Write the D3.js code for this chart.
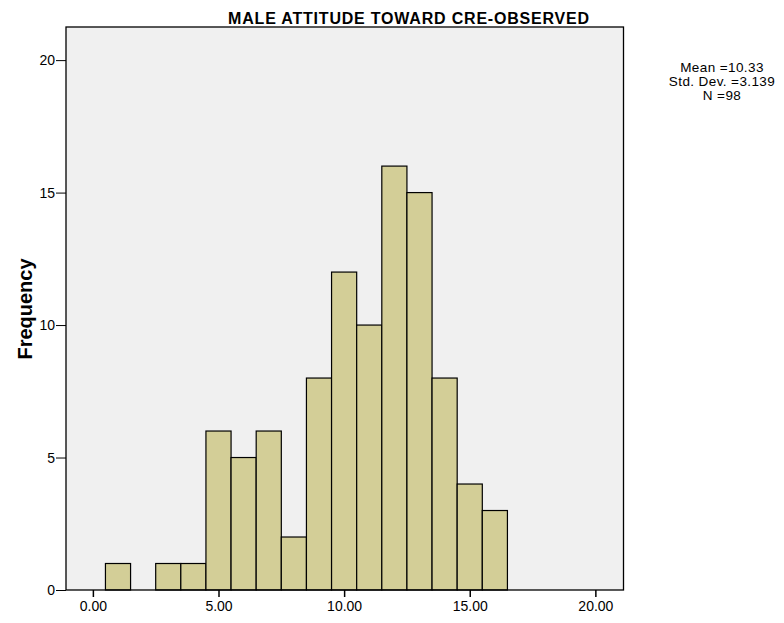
<!DOCTYPE html>
<html>
<head>
<meta charset="utf-8">
<script src="https://cdn.jsdelivr.net/npm/d3@7"></script>
<style>
  body { margin: 0; background: #fff; }
  svg { display: block; font-family: Arial, "Liberation Sans", sans-serif; }
</style>
</head>
<body>
<svg id="chart" width="784" height="623"></svg>
<script>
// Histogram bins (bin centres, width 1) and their frequencies
const binCenters = [1, 2, 3, 4, 5, 6, 7, 8, 9, 10, 11, 12, 13, 14, 15, 16];
const frequencies = [1, 0, 1, 1, 6, 5, 6, 2, 8, 12, 10, 16, 15, 8, 4, 3];
const xTicks = [0, 5, 10, 15, 20];
const yTicks = [0, 5, 10, 15, 20];
const statsLines = ["Mean =10.33", "Std. Dev. =3.139", "N =98"];
const titleText = "MALE ATTITUDE TOWARD CRE-OBSERVED";
const yLabel = "Frequency";

const svg = d3.select("#chart");
const frame = { left: 66, right: 623.5, top: 27, bottom: 590 };
const font = "Arial, 'Liberation Sans', sans-serif";

const x = d3.scaleLinear().domain([-1.07, 21.12]).range([frame.left, frame.right]);
const y = d3.scaleLinear().domain([0, 21.25]).range([frame.bottom, frame.top]);

// plot background
svg.append("rect")
  .attr("x", frame.left).attr("y", frame.top)
  .attr("width", frame.right - frame.left).attr("height", frame.bottom - frame.top)
  .attr("fill", "#f0f0f0");

// bars
svg.append("g").selectAll("rect")
  .data(binCenters.map((c, i) => ({ c, v: frequencies[i] })).filter(d => d.v > 0))
  .join("rect")
  .attr("x", d => x(d.c - 0.5))
  .attr("y", d => y(d.v))
  .attr("width", d => x(d.c + 0.5) - x(d.c - 0.5))
  .attr("height", d => y(0) - y(d.v))
  .attr("fill", "#d3ce97")
  .attr("stroke", "#000")
  .attr("stroke-width", 1.2);

// frame
svg.append("rect")
  .attr("x", frame.left).attr("y", frame.top)
  .attr("width", frame.right - frame.left).attr("height", frame.bottom - frame.top)
  .attr("fill", "none").attr("stroke", "#000").attr("stroke-width", 1.3);

// axes
const xAxis = svg.append("g")
  .attr("transform", `translate(0,${frame.bottom})`)
  .call(d3.axisBottom(x).tickValues(xTicks).tickFormat(d3.format(".2f")).tickSizeOuter(0).tickSize(7).tickPadding(4));
xAxis.select(".domain").remove();
xAxis.selectAll("line").attr("stroke-width", 1.5);
xAxis.selectAll("text").attr("font-size", 14).attr("fill", "#000").attr("font-family", font);

const yAxis = svg.append("g")
  .attr("transform", `translate(${frame.left},0)`)
  .call(d3.axisLeft(y).tickValues(yTicks).tickSizeOuter(0).tickSize(10).tickPadding(1));
yAxis.select(".domain").remove();
yAxis.selectAll("line").attr("stroke-width", 1);
yAxis.selectAll("text").attr("font-size", 14).attr("fill", "#000").attr("font-family", font);

// title
svg.append("text")
  .attr("x", 409).attr("y", 24)
  .attr("text-anchor", "middle")
  .attr("font-size", 16).attr("font-weight", "bold")
  .attr("letter-spacing", 0.8)
  .text(titleText);

// y axis label
svg.append("text")
  .attr("transform", `translate(31.5,309) rotate(-90)`)
  .attr("text-anchor", "middle")
  .attr("font-size", 20).attr("font-weight", "bold")
  .text(yLabel);

// summary statistics
svg.append("g").selectAll("text")
  .data(statsLines)
  .join("text")
  .attr("x", 722).attr("y", (d, i) => 72 + i * 14)
  .attr("text-anchor", "middle")
  .attr("font-size", 13.5)
  .attr("letter-spacing", 0.4)
  .text(d => d);
</script>
</body>
</html>
